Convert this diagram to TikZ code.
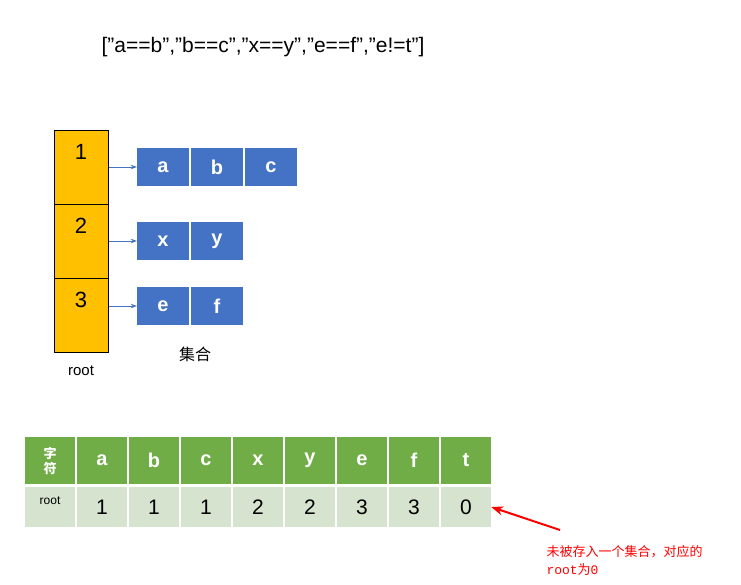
\documentclass[tikz,border=0pt]{standalone}
\usepackage{fontspec}
\setmainfont{Liberation Sans}
\newfontfamily\cjk{Noto Sans CJK SC}
\setmonofont{Liberation Mono}
\usetikzlibrary{arrows.meta}
\definecolor{gold}{HTML}{FFC000}
\definecolor{blu}{HTML}{4472C4}
\definecolor{grn}{HTML}{70AD47}
\definecolor{lgrn}{HTML}{D5E3CF}
\tikzset{
 rootcell/.style={draw=black,line width=1.2pt,fill=gold,minimum width=54pt,minimum height=74pt,anchor=north west,inner sep=0pt},
 setcell/.style={fill=blu,text=white,font=\bfseries\fontsize{20}{20}\selectfont,minimum width=52pt,minimum height=38pt,inner sep=0pt},
 hcell/.style={fill=grn,text=white,font=\bfseries\fontsize{20}{20}\selectfont,minimum width=50pt,minimum height=47pt,inner sep=0pt},
 vcell/.style={fill=lgrn,font=\fontsize{21}{21}\selectfont,minimum width=50pt,minimum height=40pt,inner sep=0pt},
 conn/.style={draw=blu,-{Stealth[length=6pt]},line width=0.7pt}
}
\begin{document}
\begin{tikzpicture}[x=1pt,y=-1pt]
\useasboundingbox (0,0) rectangle (741,584);
\node[font=\fontsize{21}{21}\selectfont] (title) at (263,47) {["a==b","b==c","x==y","e==f","e!=t"]};
\foreach \i/\y in {1/130,2/204,3/278}{
 \node[rootcell] (r\i) at (54,\y) {};
 \node[font=\fontsize{22}{22}\selectfont] (rn\i) at (81,\y+22) {\i};
}
\node[setcell] (a) at (163,167) {a};
\node[setcell] (b) at (217,167) {b};
\node[setcell] (c) at (271,167) {c};
\node[setcell] (x) at (163,241) {x};
\node[setcell] (y) at (217,241) {y};
\node[setcell] (e) at (163,306) {e};
\node[setcell] (f) at (217,306) {f};
\draw[conn] (r1.east |- a.west) -- (a.west);
\draw[conn] (r2.east |- x.west) -- (x.west);
\draw[conn] (r3.east |- e.west) -- (e.west);
\node[font=\cjk\fontsize{16}{16}\selectfont] (jh) at (195,354) {集合};
\node[font=\fontsize{15}{15}\selectfont] (rl) at (81,371) {root};
\node[hcell,font=\cjk\bfseries\fontsize{13}{15}\selectfont,align=center] (h0) at (50,460.5) {字\\符};
\node[vcell] (v0) at (50,507) {};
\node[font=\fontsize{12}{12}\selectfont] (vl) at (50,501) {root};
\foreach \k/\ch/\v in {1/a/1,2/b/1,3/c/1,4/x/2,5/y/2,6/e/3,7/f/3,8/t/0}{
 \node[hcell] (h\k) at (50+52*\k,460.5) {\ch};
 \node[vcell] (v\k) at (50+52*\k,507) {\v};
}
\coordinate (tail) at (560,530);
\draw[red,line width=2pt,-{Stealth[length=12pt,width=9pt]}] (tail) -- (v8.east);
\node[red,anchor=west,font=\cjk\fontsize{13}{13}\selectfont] (n1) at (543,552) {未被存入一个集合，对应的};
\node[red,anchor=west,font=\ttfamily\fontsize{13}{13}\selectfont] (n2) at (543,570) {root{\cjk 为}0};
\end{tikzpicture}
\end{document}
